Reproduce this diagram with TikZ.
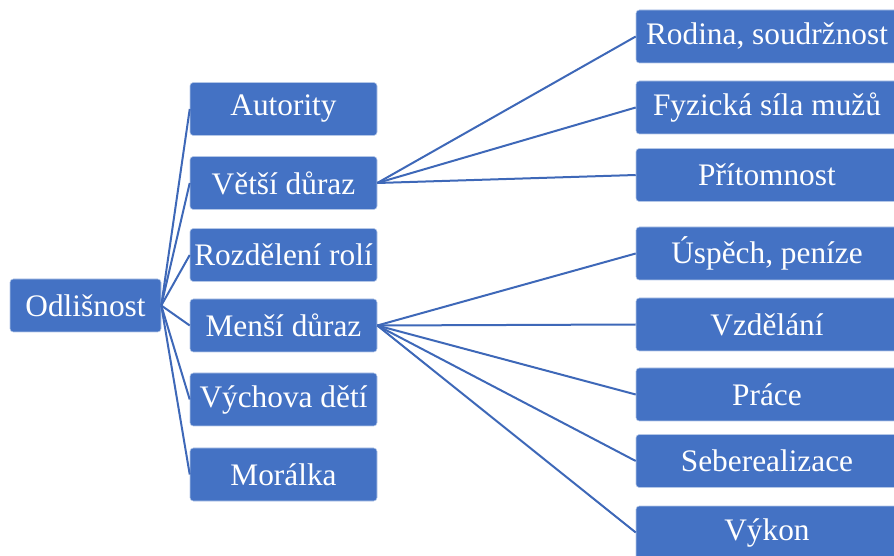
\documentclass[tikz,border=0pt]{standalone}
\usepackage{fontspec}
\setmainfont{Liberation Serif}
\usepackage{tikz}
\usetikzlibrary{positioning}

\definecolor{boxblue}{RGB}{68,114,196}
\definecolor{edgeblue}{RGB}{180,199,231}
\definecolor{lineblue}{RGB}{62,104,184}

\begin{document}
\begin{tikzpicture}[
    x=0.75pt, y=-0.75pt,
    box/.style={draw=edgeblue, line width=0.4pt, fill=boxblue, text=white, rounded corners=2.5pt,
        inner sep=0pt, minimum height=39.75pt, font=\fontsize{23.5}{26}\selectfont},
    rootbox/.style={box, minimum width=113.25pt},
    midbox/.style={box, minimum width=140.25pt},
    leafbox/.style={box, minimum width=196.5pt},
    link/.style={draw=lineblue, line width=1.5pt}
]

    \useasboundingbox (0, 0) rectangle (894, 556);

    % Root
    \node[rootbox] (odlisnost) at (85.5, 305.5) {Odlišnost};

    % Middle column
    \node[midbox] (autority)  at (283.5, 109)   {Autority};
    \node[midbox] (vetsi)     at (283.5, 183)   {Větší důraz};
    \node[midbox] (role)      at (283.5, 255)   {Rozdělení rolí};
    \node[midbox] (mensi)     at (283.5, 325.5) {Menší důraz};
    \node[midbox] (vychova)   at (283.5, 399.5) {Výchova dětí};
    \node[midbox] (moralka)   at (283.5, 474.5) {Morálka};

    % Right column
    \node[leafbox] (rodina)    at (767, 36.5)  {Rodina, soudržnost};
    \node[leafbox] (sila)      at (767, 107.5) {Fyzická síla mužů};
    \node[leafbox] (pritomnost) at (767, 175)  {Přítomnost};
    \node[leafbox] (uspech)    at (767, 253.5) {Úspěch, peníze};
    \node[leafbox] (vzdelani)  at (767, 324.5) {Vzdělání};
    \node[leafbox] (prace)     at (767, 394.5) {Práce};
    \node[leafbox] (seber)     at (767, 461)   {Seberealizace};
    \node[leafbox] (vykon)     at (767, 532.5) {Výkon};

    % Connectors
    \foreach \m in {autority, vetsi, role, mensi, vychova, moralka}
        \draw[link] (odlisnost.east) -- (\m.west);
    \foreach \r in {rodina, sila, pritomnost}
        \draw[link] (vetsi.east) -- (\r.west);
    \foreach \r in {uspech, vzdelani, prace, seber, vykon}
        \draw[link] (mensi.east) -- (\r.west);

\end{tikzpicture}
\end{document}
